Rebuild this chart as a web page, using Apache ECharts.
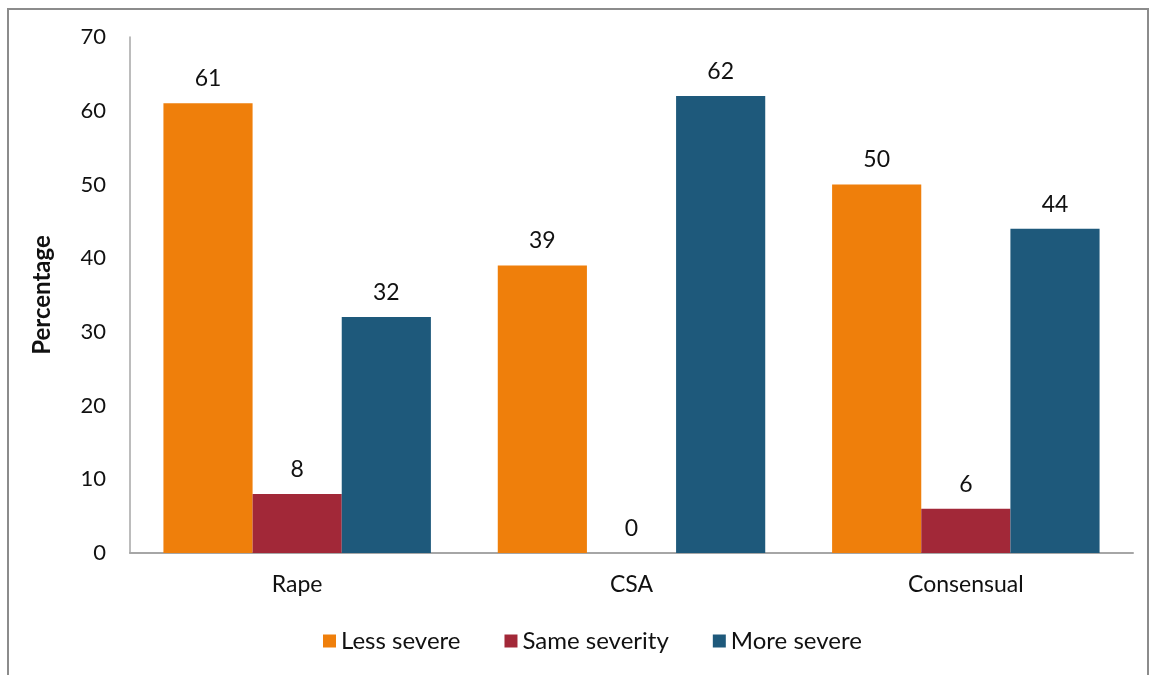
<!DOCTYPE html>
<html>
<head>
<meta charset="utf-8">
<script src="https://cdn.jsdelivr.net/npm/echarts@6/dist/echarts.min.js"></script>
<style>
  html, body { margin: 0; padding: 0; background: #fff; }
  #chart { width: 1152px; height: 675px; }
</style>
</head>
<body>
<div id="chart"></div>
<script>
// offence types on the x axis
var categories = ['Rape', 'CSA', 'Consensual'];
var lessSevere = [61, 39, 50];
var sameSeverity = [8, 0, 6];
var moreSevere = [32, 62, 44];
var yTicks = [0, 10, 20, 30, 40, 50, 60, 70];

var font = 'Lato, "Open Sans", sans-serif';
var chart = echarts.init(document.getElementById('chart'));

function barSeries(name, data, color) {
  return {
    name: name,
    type: 'bar',
    data: data,
    barGap: '0%',
    barCategoryGap: '20%',
    itemStyle: { color: color },
    label: {
      show: true,
      position: 'top',
      distance: 13,
      color: '#111',
      fontSize: 23,
      fontFamily: font
    }
  };
}

chart.setOption({
  animation: false,
  textStyle: { fontFamily: font },
  graphic: [{
    type: 'rect',
    shape: { x: 8, y: 9, width: 1140, height: 700 },
    style: { fill: 'none', stroke: '#8c8c8c', lineWidth: 2 },
    silent: true
  }],
  grid: { left: 130, right: 19, top: 37, bottom: 122 },
  legend: {
    bottom: 17,
    left: 318,
    icon: 'rect',
    itemWidth: 13,
    itemHeight: 13,
    itemGap: 44,
    textStyle: { fontSize: 24, color: '#111', fontFamily: font },
    data: ['Less severe', 'Same severity', 'More severe']
  },
  xAxis: {
    type: 'category',
    data: categories,
    axisLine: { lineStyle: { color: '#a6a6a6', width: 2 } },
    axisTick: { show: false },
    axisLabel: { fontSize: 23, color: '#111', margin: 20, fontFamily: font }
  },
  yAxis: {
    type: 'value',
    min: yTicks[0],
    max: yTicks[yTicks.length - 1],
    interval: 10,
    name: 'Percentage',
    nameLocation: 'middle',
    nameGap: 76,
    nameTextStyle: { fontSize: 24, fontWeight: 'bold', color: '#111', fontFamily: font },
    axisLine: { show: true, lineStyle: { color: '#a6a6a6', width: 1.5 } },
    axisTick: { show: false },
    splitLine: { show: false },
    axisLabel: { fontSize: 22, color: '#111', margin: 24, fontFamily: font }
  },
  series: [
    barSeries('Less severe', lessSevere, '#ef7f0b'),
    barSeries('Same severity', sameSeverity, '#a22838'),
    barSeries('More severe', moreSevere, '#1e597b')
  ]
});
</script>
</body>
</html>
